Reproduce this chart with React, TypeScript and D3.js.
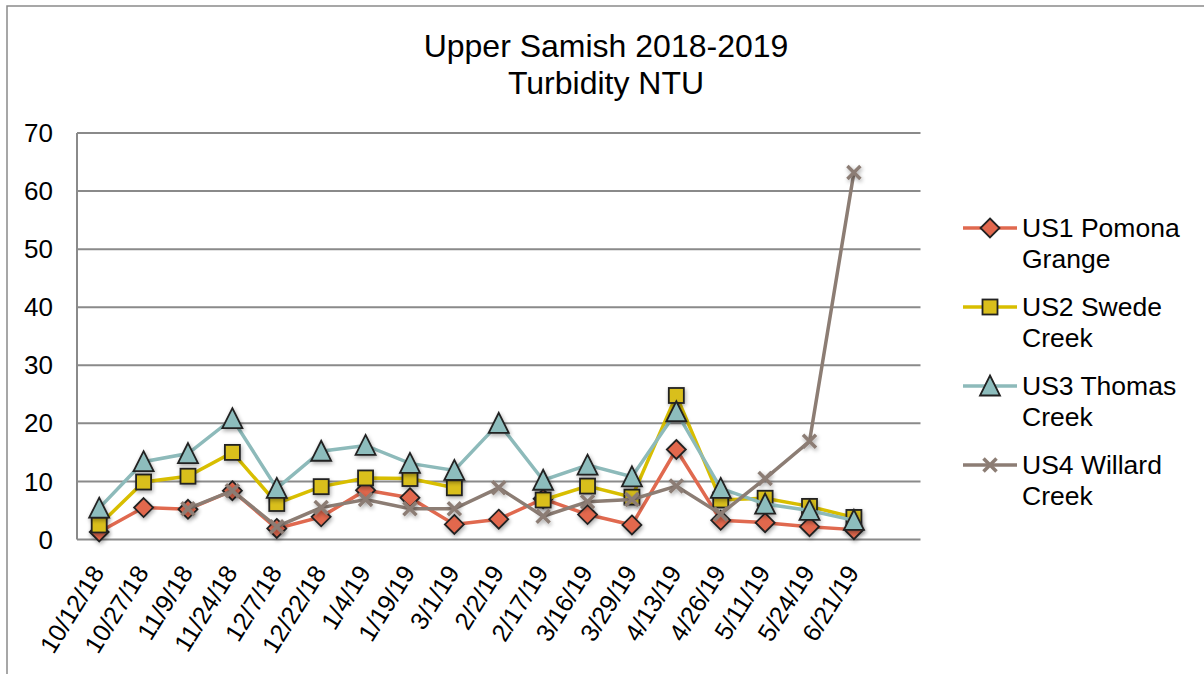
import React from "react";
import * as d3 from "d3";

const categories = [
  "10/12/18", "10/27/18", "11/9/18", "11/24/18", "12/7/18", "12/22/18",
  "1/4/19", "1/19/19", "3/1/19", "2/2/19", "2/17/19", "3/16/19",
  "3/29/19", "4/13/19", "4/26/19", "5/11/19", "5/24/19", "6/21/19",
];

const us1 = [1.3, 5.5, 5.2, 8.4, 1.9, 3.9, 8.5, 7.2, 2.6, 3.5, 7.0, 4.3, 2.5, 15.5, 3.3, 2.9, 2.2, 1.7];
const us2 = [2.5, 9.9, 10.9, 15.0, 6.2, 9.1, 10.6, 10.5, 8.9, null, 6.8, 9.2, 7.3, 24.8, 6.8, 7.1, 5.7, 3.8];
const us3 = [5.4, 13.4, 14.8, 20.8, 8.8, 15.2, 16.2, 13.1, 11.9, 20.0, 10.2, 12.8, 10.8, 22.0, 8.8, 6.1, 5.0, 3.3];
const us4 = [null, null, 5.3, 8.4, 2.2, 5.5, 6.9, 5.3, 5.3, 8.9, 4.0, 6.5, 6.9, 9.2, 4.4, 10.5, 16.9, 63.2];

const yTicks = [0, 10, 20, 30, 40, 50, 60, 70];
const seriesNames = [["US1 Pomona", "Grange"], ["US2 Swede", "Creek"], ["US3 Thomas", "Creek"], ["US4 Willard", "Creek"]];

const series = [
  { values: us1, name: seriesNames[0], line: "#E0694F", fill: "#E2684E", marker: "diamond" },
  { values: us2, name: seriesNames[1], line: "#D8BE00", fill: "#D9BF1C", marker: "square" },
  { values: us3, name: seriesNames[2], line: "#8DBABA", fill: "#8DBDBD", marker: "triangle" },
  { values: us4, name: seriesNames[3], line: "#8C7D74", fill: "#8C7D74", marker: "x" },
];

const FONT = "'Liberation Sans', Arial, sans-serif";

function Marker({ type, x, y, fill }: { type: string; x: number; y: number; fill: string }) {
  if (type === "diamond") {
    const r = 9.5;
    return <path d={`M${x},${y - r}L${x + r},${y}L${x},${y + r}L${x - r},${y}Z`} fill={fill} stroke="#222" strokeWidth={1.8} />;
  }
  if (type === "square") {
    const r = 7.5;
    return <rect x={x - r} y={y - r} width={2 * r} height={2 * r} fill={fill} stroke="#222" strokeWidth={1.8} />;
  }
  if (type === "triangle") {
    const h = 19, w = 20;
    return <path d={`M${x},${y - h / 2 - 1}L${x + w / 2},${y + h / 2}L${x - w / 2},${y + h / 2}Z`} fill={fill} stroke="#222" strokeWidth={1.8} />;
  }
  const r = 6.5;
  return (
    <g stroke={fill} strokeWidth={3.5}>
      <line x1={x - r} y1={y - r} x2={x + r} y2={y + r} />
      <line x1={x - r} y1={y + r} x2={x + r} y2={y - r} />
    </g>
  );
}

export default function App() {
  const W = 1204, H = 674;
  const left = 77, right = 920.5, top = 133, bottom = 539.5;
  const slots = [...categories, ""];
  const x = d3.scaleBand<string>().domain(slots.map((c, i) => c + "#" + i)).range([left, right]);
  const xp = (i: number) => (x(slots[i] + "#" + i) as number) + x.bandwidth() / 2;
  const y = d3.scaleLinear().domain([0, 70]).range([bottom, top]);

  const line = d3
    .line<number | null>()
    .defined((d) => d != null)
    .x((_, i) => xp(i))
    .y((d) => y(d as number));

  return (
    <svg width={W} height={H} style={{ position: "absolute", left: 0, top: 0, background: "#fff" }} fontFamily={FONT}>
      <defs>
        <filter id="sh" x="-50%" y="-50%" width="200%" height="200%">
          <feGaussianBlur in="SourceAlpha" stdDeviation="2" />
          <feOffset dx="1" dy="2" result="b" />
          <feComponentTransfer>
            <feFuncA type="linear" slope="0.35" />
          </feComponentTransfer>
          <feMerge>
            <feMergeNode />
            <feMergeNode in="SourceGraphic" />
          </feMerge>
        </filter>
      </defs>
      <rect x={7} y={6} width={1400} height={900} fill="none" stroke="#8a8a8a" strokeWidth={1.5} />
      <text x={606} y={57} textAnchor="middle" fontSize={32} fill="#000">Upper Samish 2018-2019</text>
      <text x={606} y={94} textAnchor="middle" fontSize={32} fill="#000">Turbidity NTU</text>

      {yTicks.map((t) => (
        <g key={t}>
          <line x1={left} x2={right} y1={y(t)} y2={y(t)} stroke="#8a8a8a" strokeWidth={2} />
          <text x={53} y={y(t)} dy="0.35em" textAnchor="end" fontSize={26} fill="#000">{t}</text>
        </g>
      ))}
      <line x1={left} x2={left} y1={top} y2={bottom} stroke="#8a8a8a" strokeWidth={2} />

      {categories.map((c, i) => (
        <text
          key={c}
          transform={`translate(${xp(i) + 6},${bottom + 33}) rotate(-58)`}
          textAnchor="end"
          fontSize={25}
          fill="#000"
        >
          {c}
        </text>
      ))}

      {series.map((s, si) => (
        <g key={si}>
          <path d={line(s.values) || ""} fill="none" stroke={s.line} strokeWidth={3.5} />
          <g filter="url(#sh)">
            {s.values.map((v, i) =>
              v == null ? null : <Marker key={i} type={s.marker} x={xp(i)} y={y(v)} fill={s.fill} />
            )}
          </g>
        </g>
      ))}

      {series.map((s, si) => {
        const ly = 228 + si * 79;
        return (
          <g key={si}>
            <line x1={963} x2={1017} y1={ly} y2={ly} stroke={s.line} strokeWidth={3.5} />
            <Marker type={s.marker} x={990} y={ly} fill={s.fill} />
            <text x={1022} y={ly + 9} fontSize={26.5} fill="#000">{s.name[0]}</text>
            <text x={1022} y={ly + 40} fontSize={26.5} fill="#000">{s.name[1]}</text>
          </g>
        );
      })}
    </svg>
  );
}
